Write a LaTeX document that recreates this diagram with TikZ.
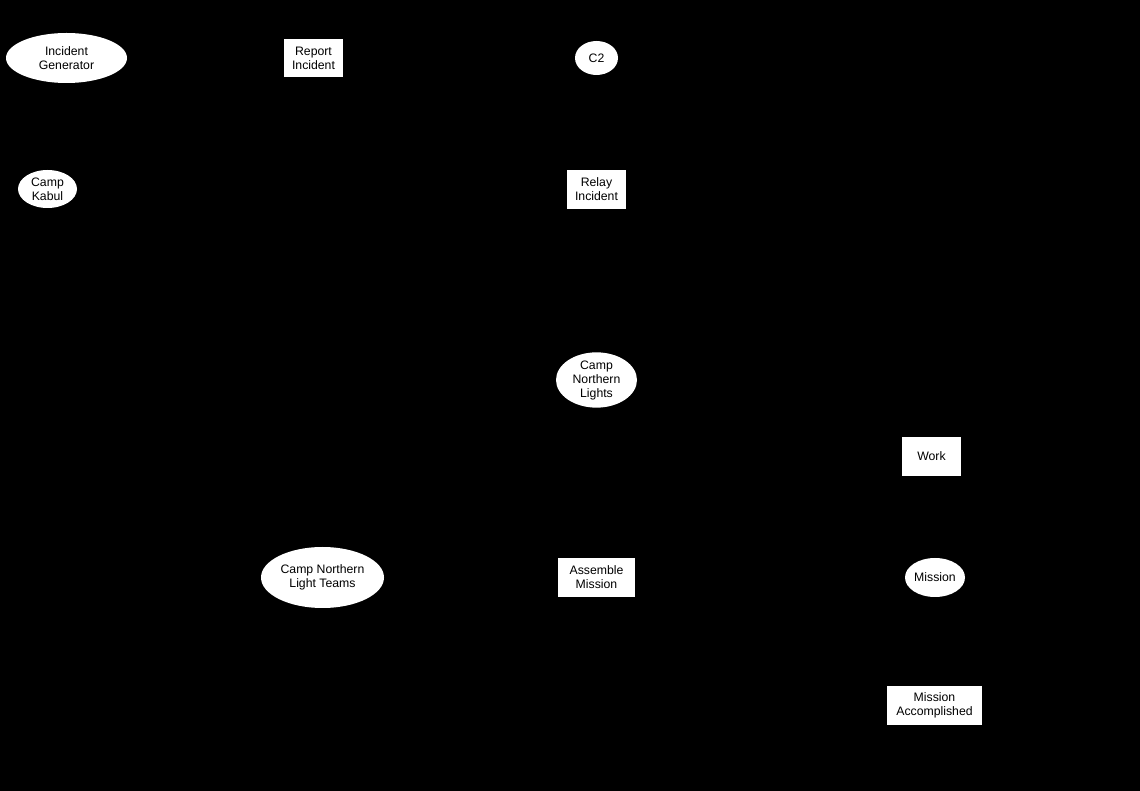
\documentclass[tikz,border=0pt]{standalone}
\usepackage{fontspec}
\setmainfont{Liberation Sans}
\usepackage{tikz}
\usetikzlibrary{shapes.geometric}
\tikzset{
  plc/.style={ellipse,fill=white,draw=none,inner sep=0pt,align=center,
              font=\fontsize{9.2}{10.5}\selectfont},
  trn/.style={rectangle,fill=white,draw=none,inner sep=0pt,align=center,
              font=\fontsize{9.2}{10.5}\selectfont},
}
\begin{document}
\begin{tikzpicture}[x=0.75pt,y=-0.75pt]
  \fill[black] (0,0) rectangle (1140,791);
  \useasboundingbox (0,0) rectangle (1140,791);
  % places
  \node[plc,minimum width=90.75pt,minimum height=37.5pt] (gen) at (66.5,58) {Incident\\Generator};
  \node[plc,minimum width=32.25pt,minimum height=25.5pt] (ctwo) at (596.5,58) {C2};
  \node[plc,minimum width=44.25pt,minimum height=28.5pt] (kabul) at (47.5,189) {Camp\\Kabul};
  \node[plc,minimum width=60.75pt,minimum height=40.5pt] (cnl) at (596.5,380) {Camp\\Northern\\Lights};
  \node[plc,minimum width=92.25pt,minimum height=45.75pt] (teams) at (322.5,577.5) {Camp Northern\\Light Teams};
  \node[plc,minimum width=45pt,minimum height=29.25pt] (mission) at (935,577.5) {Mission};
  % transitions
  \node[trn,minimum width=44.25pt,minimum height=28.5pt] (report) at (313.5,58) {Report\\Incident};
  \node[trn,minimum width=44.25pt,minimum height=29.25pt] (relay) at (596.5,189.5) {Relay\\Incident};
  \node[trn,minimum width=44.25pt,minimum height=29.25pt] (work) at (931.5,456.5) {Work};
  \node[trn,minimum width=57.75pt,minimum height=29.25pt] (assemble) at (596.5,577.5) {Assemble\\Mission};
  \node[trn,minimum width=71.25pt,minimum height=29.25pt] (done) at (934.5,705.5) {Mission\\Accomplished};
\end{tikzpicture}
\end{document}
